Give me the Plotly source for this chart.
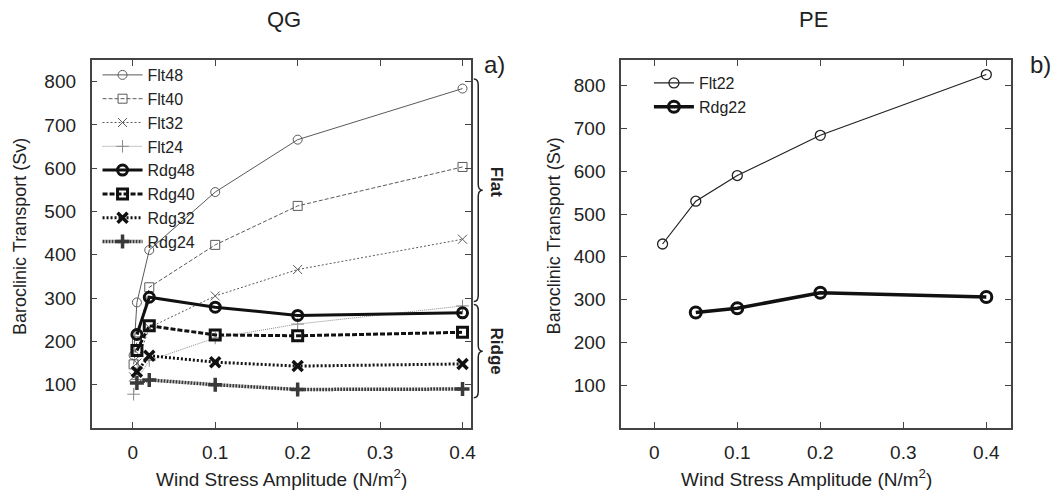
import plotly.graph_objects as go

# ---------------- data ----------------
# QG panel (a)
qg_x_flt = [0.001, 0.005, 0.02, 0.1, 0.2, 0.4]
flt48 = [168, 290, 411, 545, 666, 784]
flt40 = [147, 200, 325, 423, 513, 603]
flt32 = [118, 150, 232, 305, 366, 436]
flt24 = [78, 112, 156, 208, 240, 282]

qg_x_rdg = [0.005, 0.02, 0.1, 0.2, 0.4]
rdg48 = [216, 302, 279, 260, 266]
rdg40 = [179, 236, 215, 213, 221]
rdg32 = [130, 167, 152, 143, 148]
rdg24 = [104, 111, 100, 89, 90]

# PE panel (b)
pe_x_flt = [0.01, 0.05, 0.1, 0.2, 0.4]
flt22 = [430, 530, 590, 684, 826]
pe_x_rdg = [0.05, 0.1, 0.2, 0.4]
rdg22 = [270, 280, 316, 306]

x_ticks = [0, 0.1, 0.2, 0.3, 0.4]
x_ticklabels = ["0", "0.1", "0.2", "0.3", "0.4"]
y_ticks = [100, 200, 300, 400, 500, 600, 700, 800]

# ---------------- figure ----------------
W, H = 1063, 496
FONT = "Liberation Sans, Arial, sans-serif"
TXT = "#222222"
GRAY = "#5a5a5a"

fig = go.Figure()

def add(x, y, name, color, width, dash, symbol, msize, mlw, xa, ya, legend):
    fig.add_trace(go.Scatter(
        x=x, y=y, name=name, mode="lines+markers",
        line=dict(color=color, width=width, dash=dash),
        marker=dict(symbol=symbol, size=msize, color=color,
                    line=dict(color=color, width=mlw)),
        xaxis=xa, yaxis=ya, legend=legend))

# panel a
add(qg_x_flt, flt48, "Flt48", GRAY, 1, "solid", "circle-open", 9, 1, "x", "y", "legend")
add(qg_x_flt, flt40, "Flt40", GRAY, 1, "4px,2px", "square-open", 9, 1, "x", "y", "legend")
add(qg_x_flt, flt32, "Flt32", GRAY, 1, "2px,2px", "x-thin-open", 9, 1, "x", "y", "legend")
add(qg_x_flt, flt24, "Flt24", "#8a8a8a", 1, "1px,1px", "cross-thin-open", 9, 1, "x", "y", "legend")
add(qg_x_rdg, rdg48, "Rdg48", "#111111", 3, "solid", "circle-open", 10, 3, "x", "y", "legend")
add(qg_x_rdg, rdg40, "Rdg40", "#111111", 3, "5px,2px", "square-open", 10, 3, "x", "y", "legend")
add(qg_x_rdg, rdg32, "Rdg32", "#111111", 3, "2px,2px", "x-thin-open", 10, 3.5, "x", "y", "legend")
add(qg_x_rdg, rdg24, "Rdg24", "#3a3a3a", 3.5, "2px,1px", "cross-thin-open", 10, 3.5, "x", "y", "legend")

# panel b
add(pe_x_flt, flt22, "Flt22", "#222222", 1.2, "solid", "circle-open", 10, 1.3, "x2", "y2", "legend2")
add(pe_x_rdg, rdg22, "Rdg22", "#111111", 3.5, "solid", "circle-open", 11, 3, "x2", "y2", "legend2")

# pixel helpers
def px(xp):
    return xp / W

def py(yp):
    return 1 - yp / H

L1, R1, L2, R2 = 92, 473, 624, 1016
TOP, BOT = 60, 428
Y1 = [0, 850]
Y2 = [0, 860]

axis_common = dict(
    showline=True, linecolor="#444444", linewidth=1.5, mirror="ticks",
    ticks="inside", ticklen=6, tickwidth=1.2, tickcolor="#444444",
    showgrid=False, zeroline=False,
    tickfont=dict(family=FONT, size=19, color=TXT),
)

fig.update_layout(
    width=W, height=H,
    margin=dict(l=0, r=0, t=0, b=0),
    paper_bgcolor="white", plot_bgcolor="white",
    font=dict(family=FONT, color=TXT),
    xaxis=dict(domain=[px(L1), px(R1)], range=[-0.05, 0.41], anchor="y",
               tickvals=x_ticks, ticktext=x_ticklabels, ticklabelstandoff=6,
               **axis_common),
    yaxis=dict(domain=[py(BOT), py(TOP)], range=Y1, anchor="x",
               tickvals=y_ticks, ticklabelstandoff=10, **axis_common),
    xaxis2=dict(domain=[px(L2), px(R2)], range=[-0.04, 0.43], anchor="y2",
                tickvals=x_ticks, ticktext=x_ticklabels, ticklabelstandoff=6,
                **axis_common),
    yaxis2=dict(domain=[py(BOT), py(TOP)], range=Y2, anchor="x2",
                tickvals=y_ticks, ticklabelstandoff=10, **axis_common),
    legend=dict(x=px(98), y=py(58), xanchor="left", yanchor="top",
                bgcolor="rgba(0,0,0,0)", font=dict(family=FONT, size=16, color=TXT),
                tracegroupgap=0, itemwidth=40),
    legend2=dict(x=px(652), y=py(66), xanchor="left", yanchor="top",
                 bgcolor="rgba(0,0,0,0)", font=dict(family=FONT, size=16, color=TXT),
                 tracegroupgap=0, itemwidth=40),
)

ann = []
def text(x, y, s, size, angle=0, bold=False):
    ann.append(dict(x=px(x), y=py(y), xref="paper", yref="paper", text=("<b>%s</b>" % s) if bold else s,
                    showarrow=False, textangle=angle, xanchor="center", yanchor="middle",
                    font=dict(family=FONT, size=size, color=TXT)))

text(285, 20, "QG", 22)
text(817, 20, "PE", 22)
text(497, 64, "a)", 24)
text(1045, 64, "b)", 24)
text(20, 236, "Baroclinic Transport (Sv)", 18, angle=-90)
text(557, 236, "Baroclinic Transport (Sv)", 18, angle=-90)
text(283, 478, "Wind Stress Amplitude (N/m<sup>2</sup>)", 19)
text(810, 478, "Wind Stress Amplitude (N/m<sup>2</sup>)", 19)

# braces grouping the Flat / Ridge curves in panel a
def v2py(v):
    return BOT - (v - Y1[0]) / (Y1[1] - Y1[0]) * (BOT - TOP)

def brace(v_top, v_bot, x0=476, w=4.5):
    yt, yb = v2py(v_top), v2py(v_bot)
    ym = (yt + yb) / 2
    r = 6
    pts = [
        ("M", x0, yt),
        ("Q", x0 + w, yt, x0 + w, yt + r),
        ("L", x0 + w, ym - r),
        ("Q", x0 + w, ym, x0 + 2 * w, ym),
        ("Q", x0 + w, ym, x0 + w, ym + r),
        ("L", x0 + w, yb - r),
        ("Q", x0 + w, yb, x0, yb),
    ]
    s = []
    for p in pts:
        cmd, vals = p[0], p[1:]
        coords = []
        for i in range(0, len(vals), 2):
            coords.append("%.5f,%.5f" % (px(vals[i]), py(vals[i + 1])))
        s.append(cmd + " " + " ".join(coords))
    return dict(type="path", path=" ".join(s), xref="paper", yref="paper",
                line=dict(color="#222222", width=1.5))

shapes = [brace(806, 292), brace(285, 70)]
text(499, v2py((806 + 292) / 2) - 8, "Flat", 17, angle=90, bold=True)
text(499, v2py((285 + 70) / 2), "Ridge", 17, angle=90, bold=True)

fig.update_layout(annotations=ann, shapes=shapes)

fig.write_html("out.html",
               config={"displayModeBar": False},
               post_script="document.body.style.margin='0';document.body.style.padding='0';")
